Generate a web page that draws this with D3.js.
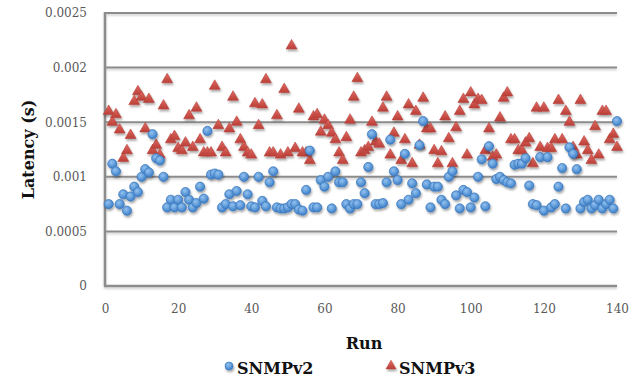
<!DOCTYPE html>
<html>
<head>
<meta charset="utf-8">
<script src="https://cdn.jsdelivr.net/npm/d3@7"></script>
<style>
  html, body { margin: 0; padding: 0; background: #fff; }
  svg { display: block; }
  .tick text { font-family: "DejaVu Serif", serif; font-size: 12px; fill: #595959; }
  .title { font-family: "DejaVu Serif", serif; font-weight: bold; font-size: 16px; fill: #111; }
</style>
</head>
<body>
<svg id="chart" width="637" height="379"></svg>
<script>
const WIDTH = 637;
const HEIGHT = 379;

const xTicks = [0, 20, 40, 60, 80, 100, 120, 140];
const yTicks = [0, 0.0005, 0.001, 0.0015, 0.002, 0.0025];
const yTickLabels = ["0", "0.0005", "0.001", "0.0015", "0.002", "0.0025"];
const seriesNames = ["SNMPv2", "SNMPv3"];

// latency per run, runs 1..140
const snmpv2 = [
  0.00075, 0.00112, 0.00105, 0.00075, 0.00084, 0.00069, 0.00082, 0.00091, 0.00086, 0.00100,
  0.00107, 0.00104, 0.00139, 0.00117, 0.00115, 0.00100, 0.00072, 0.00079, 0.00072, 0.00079,
  0.00072, 0.00086, 0.00079, 0.00072, 0.00076, 0.00091, 0.00080, 0.00142, 0.00102, 0.00103,
  0.00102, 0.00072, 0.00075, 0.00084, 0.00073, 0.00087, 0.00074, 0.00100, 0.00084, 0.00073,
  0.00072, 0.00100, 0.00078, 0.00073, 0.00095, 0.00105, 0.00072, 0.00071, 0.00071, 0.00072,
  0.00075, 0.00075, 0.00070, 0.00069, 0.00088, 0.00124, 0.00072, 0.00072, 0.00097, 0.00091,
  0.00100, 0.00071, 0.00105, 0.00095, 0.00095, 0.00075, 0.00071, 0.00075, 0.00075, 0.00095,
  0.00085, 0.00109, 0.00139, 0.00075, 0.00075, 0.00076, 0.00095, 0.00134, 0.00105, 0.00097,
  0.00075, 0.00121, 0.00079, 0.00094, 0.00085, 0.00129, 0.00151, 0.00093, 0.00072, 0.00091,
  0.00091, 0.00079, 0.00075, 0.00100, 0.00105, 0.00083, 0.00071, 0.00088, 0.00086, 0.00072,
  0.00081, 0.00100, 0.00116, 0.00073, 0.00128, 0.00112, 0.00098, 0.00100, 0.00097, 0.00095,
  0.00094, 0.00111, 0.00112, 0.00112, 0.00117, 0.00092, 0.00075, 0.00074, 0.00118, 0.00069,
  0.00118, 0.00072, 0.00075, 0.00091, 0.00108, 0.00071, 0.00127, 0.00121, 0.00107, 0.00071,
  0.00077, 0.00079, 0.00071, 0.00074, 0.00079, 0.00071, 0.00075, 0.00079, 0.00071, 0.00151
];

const snmpv3 = [
  0.00160, 0.00150, 0.00157, 0.00143, 0.00117, 0.00124, 0.00138, 0.00169, 0.00178, 0.00173,
  0.00144, 0.00171, 0.00124, 0.00129, 0.00120, 0.00165, 0.00189, 0.00134, 0.00137, 0.00126,
  0.00124, 0.00131, 0.00156, 0.00127, 0.00163, 0.00134, 0.00122, 0.00122, 0.00122, 0.00183,
  0.00147, 0.00127, 0.00122, 0.00144, 0.00173, 0.00150, 0.00134, 0.00127, 0.00122, 0.00120,
  0.00167, 0.00147, 0.00166, 0.00189, 0.00122, 0.00122, 0.00156, 0.00120, 0.00180, 0.00122,
  0.00220, 0.00126, 0.00162, 0.00122, 0.00122, 0.00115, 0.00155, 0.00157, 0.00141, 0.00152,
  0.00147, 0.00140, 0.00134, 0.00122, 0.00115, 0.00136, 0.00152, 0.00173, 0.00190, 0.00122,
  0.00124, 0.00127, 0.00150, 0.00132, 0.00130, 0.00163, 0.00173, 0.00120, 0.00140, 0.00155,
  0.00115, 0.00134, 0.00166, 0.00112, 0.00160, 0.00129, 0.00172, 0.00144, 0.00144, 0.00124,
  0.00112, 0.00123, 0.00155, 0.00135, 0.00112, 0.00145, 0.00160, 0.00171, 0.00120, 0.00177,
  0.00166, 0.00171, 0.00170, 0.00124, 0.00144, 0.00118, 0.00120, 0.00154, 0.00172, 0.00177,
  0.00134, 0.00134, 0.00124, 0.00124, 0.00131, 0.00135, 0.00112, 0.00163, 0.00127, 0.00163,
  0.00126, 0.00126, 0.00134, 0.00170, 0.00134, 0.00160, 0.00150, 0.00127, 0.00120, 0.00170,
  0.00132, 0.00124, 0.00115, 0.00146, 0.00120, 0.00160, 0.00160, 0.00134, 0.00139, 0.00127
];

const margin = { left: 105, right: 20, top: 13, bottom: 93 };
const svg = d3.select("#chart");

const x = d3.scaleLinear().domain([0, 140]).range([margin.left, WIDTH - margin.right]);
const y = d3.scaleLinear().domain([0, 0.0025]).range([HEIGHT - margin.bottom, margin.top]);

const defs = svg.append("defs");
const shadow = defs.append("filter").attr("id", "shadow")
  .attr("filterUnits", "userSpaceOnUse")
  .attr("x", 0).attr("y", 0).attr("width", WIDTH).attr("height", HEIGHT);
shadow.append("feDropShadow").attr("dx", 1).attr("dy", 2).attr("stdDeviation", 1.2)
  .attr("flood-color", "#000").attr("flood-opacity", 0.35);

const lineShadow = defs.append("filter").attr("id", "lshadow")
  .attr("x", "-5%").attr("y", "-10%").attr("width", "110%").attr("height", "120%");
lineShadow.append("feDropShadow").attr("dx", 0).attr("dy", 1.5).attr("stdDeviation", 1)
  .attr("flood-color", "#000").attr("flood-opacity", 0.22);

const blueGrad = defs.append("radialGradient").attr("id", "blueGrad")
  .attr("cx", "40%").attr("cy", "35%").attr("r", "65%");
blueGrad.append("stop").attr("offset", "0%").attr("stop-color", "#92c2f0");
blueGrad.append("stop").attr("offset", "100%").attr("stop-color", "#3d7fc8");

const redGrad = defs.append("linearGradient").attr("id", "redGrad")
  .attr("x1", 0).attr("y1", 0).attr("x2", 0).attr("y2", 1);
redGrad.append("stop").attr("offset", "0%").attr("stop-color", "#e06a62");
redGrad.append("stop").attr("offset", "100%").attr("stop-color", "#bb3f38");

// gridlines and axis lines, shadowed as a group
const grid = svg.append("g").attr("filter", "url(#lshadow)");
grid.selectAll("line.grid")
  .data(yTicks.slice(1))
  .join("line")
  .attr("class", "grid")
  .attr("x1", x(0)).attr("x2", x(140))
  .attr("y1", d => y(d)).attr("y2", d => y(d))
  .attr("stroke", "#8c8c8c").attr("stroke-width", 2);
grid.append("line")
  .attr("x1", x(0)).attr("x2", x(0)).attr("y1", y(0.0025) - 1).attr("y2", y(0))
  .attr("stroke", "#8c8c8c").attr("stroke-width", 2.5);
grid.append("line")
  .attr("x1", x(0) - 1).attr("x2", x(140)).attr("y1", y(0)).attr("y2", y(0))
  .attr("stroke", "#8c8c8c").attr("stroke-width", 2.5);

// y axis labels
const yAxis = svg.append("g")
  .attr("transform", `translate(${margin.left},0)`)
  .call(d3.axisLeft(y).tickValues(yTicks).tickSize(0)
    .tickFormat((d, i) => yTickLabels[i]));
yAxis.select(".domain").remove();
yAxis.selectAll(".tick text").attr("x", -18);

// x axis labels
const xAxis = svg.append("g")
  .attr("transform", `translate(0,${y(0)})`)
  .call(d3.axisBottom(x).tickValues(xTicks).tickSize(0).tickFormat(d3.format("d")));
xAxis.select(".domain").remove();
xAxis.selectAll(".tick text").attr("dy", "0.71em").attr("y", 18);

const triangle = d3.symbol().type(d3.symbolTriangle).size(52);

// SNMPv3 triangles
svg.append("g").attr("filter", "url(#shadow)")
  .selectAll("path")
  .data(snmpv3)
  .join("path")
  .attr("d", triangle)
  .attr("transform", (d, i) => `translate(${x(i + 1)},${y(d)})`)
  .attr("fill", "url(#redGrad)")
  .attr("stroke", "#b5423b").attr("stroke-width", 0.6);

// SNMPv2 circles
svg.append("g").attr("filter", "url(#shadow)")
  .selectAll("circle")
  .data(snmpv2)
  .join("circle")
  .attr("cx", (d, i) => x(i + 1))
  .attr("cy", d => y(d))
  .attr("r", 4.6)
  .attr("fill", "url(#blueGrad)")
  .attr("stroke", "#3674ba").attr("stroke-width", 0.7);

// axis titles
svg.append("text").attr("class", "title")
  .attr("transform", `translate(28,${(y(0) + y(0.0025)) / 2}) rotate(-90)`)
  .attr("text-anchor", "middle").attr("dominant-baseline", "central")
  .text("Latency (s)");

svg.append("text").attr("class", "title")
  .attr("x", (x(0) + x(140)) / 2 + 3).attr("y", 343)
  .attr("text-anchor", "middle").attr("dominant-baseline", "central")
  .text("Run");

// legend
const legend = svg.append("g").attr("filter", "url(#shadow)");
legend.append("circle")
  .attr("cx", 229).attr("cy", 366).attr("r", 4)
  .attr("fill", "url(#blueGrad)").attr("stroke", "#3674ba").attr("stroke-width", 0.6);
legend.append("path")
  .attr("d", d3.symbol().type(d3.symbolTriangle).size(44))
  .attr("transform", "translate(391,366)")
  .attr("fill", "url(#redGrad)").attr("stroke", "#b5423b").attr("stroke-width", 0.5);

svg.append("text").attr("class", "title")
  .attr("x", 237).attr("y", 368).attr("dominant-baseline", "central")
  .text(seriesNames[0]);
svg.append("text").attr("class", "title")
  .attr("x", 399).attr("y", 368).attr("dominant-baseline", "central")
  .text(seriesNames[1]);
</script>
</body>
</html>
